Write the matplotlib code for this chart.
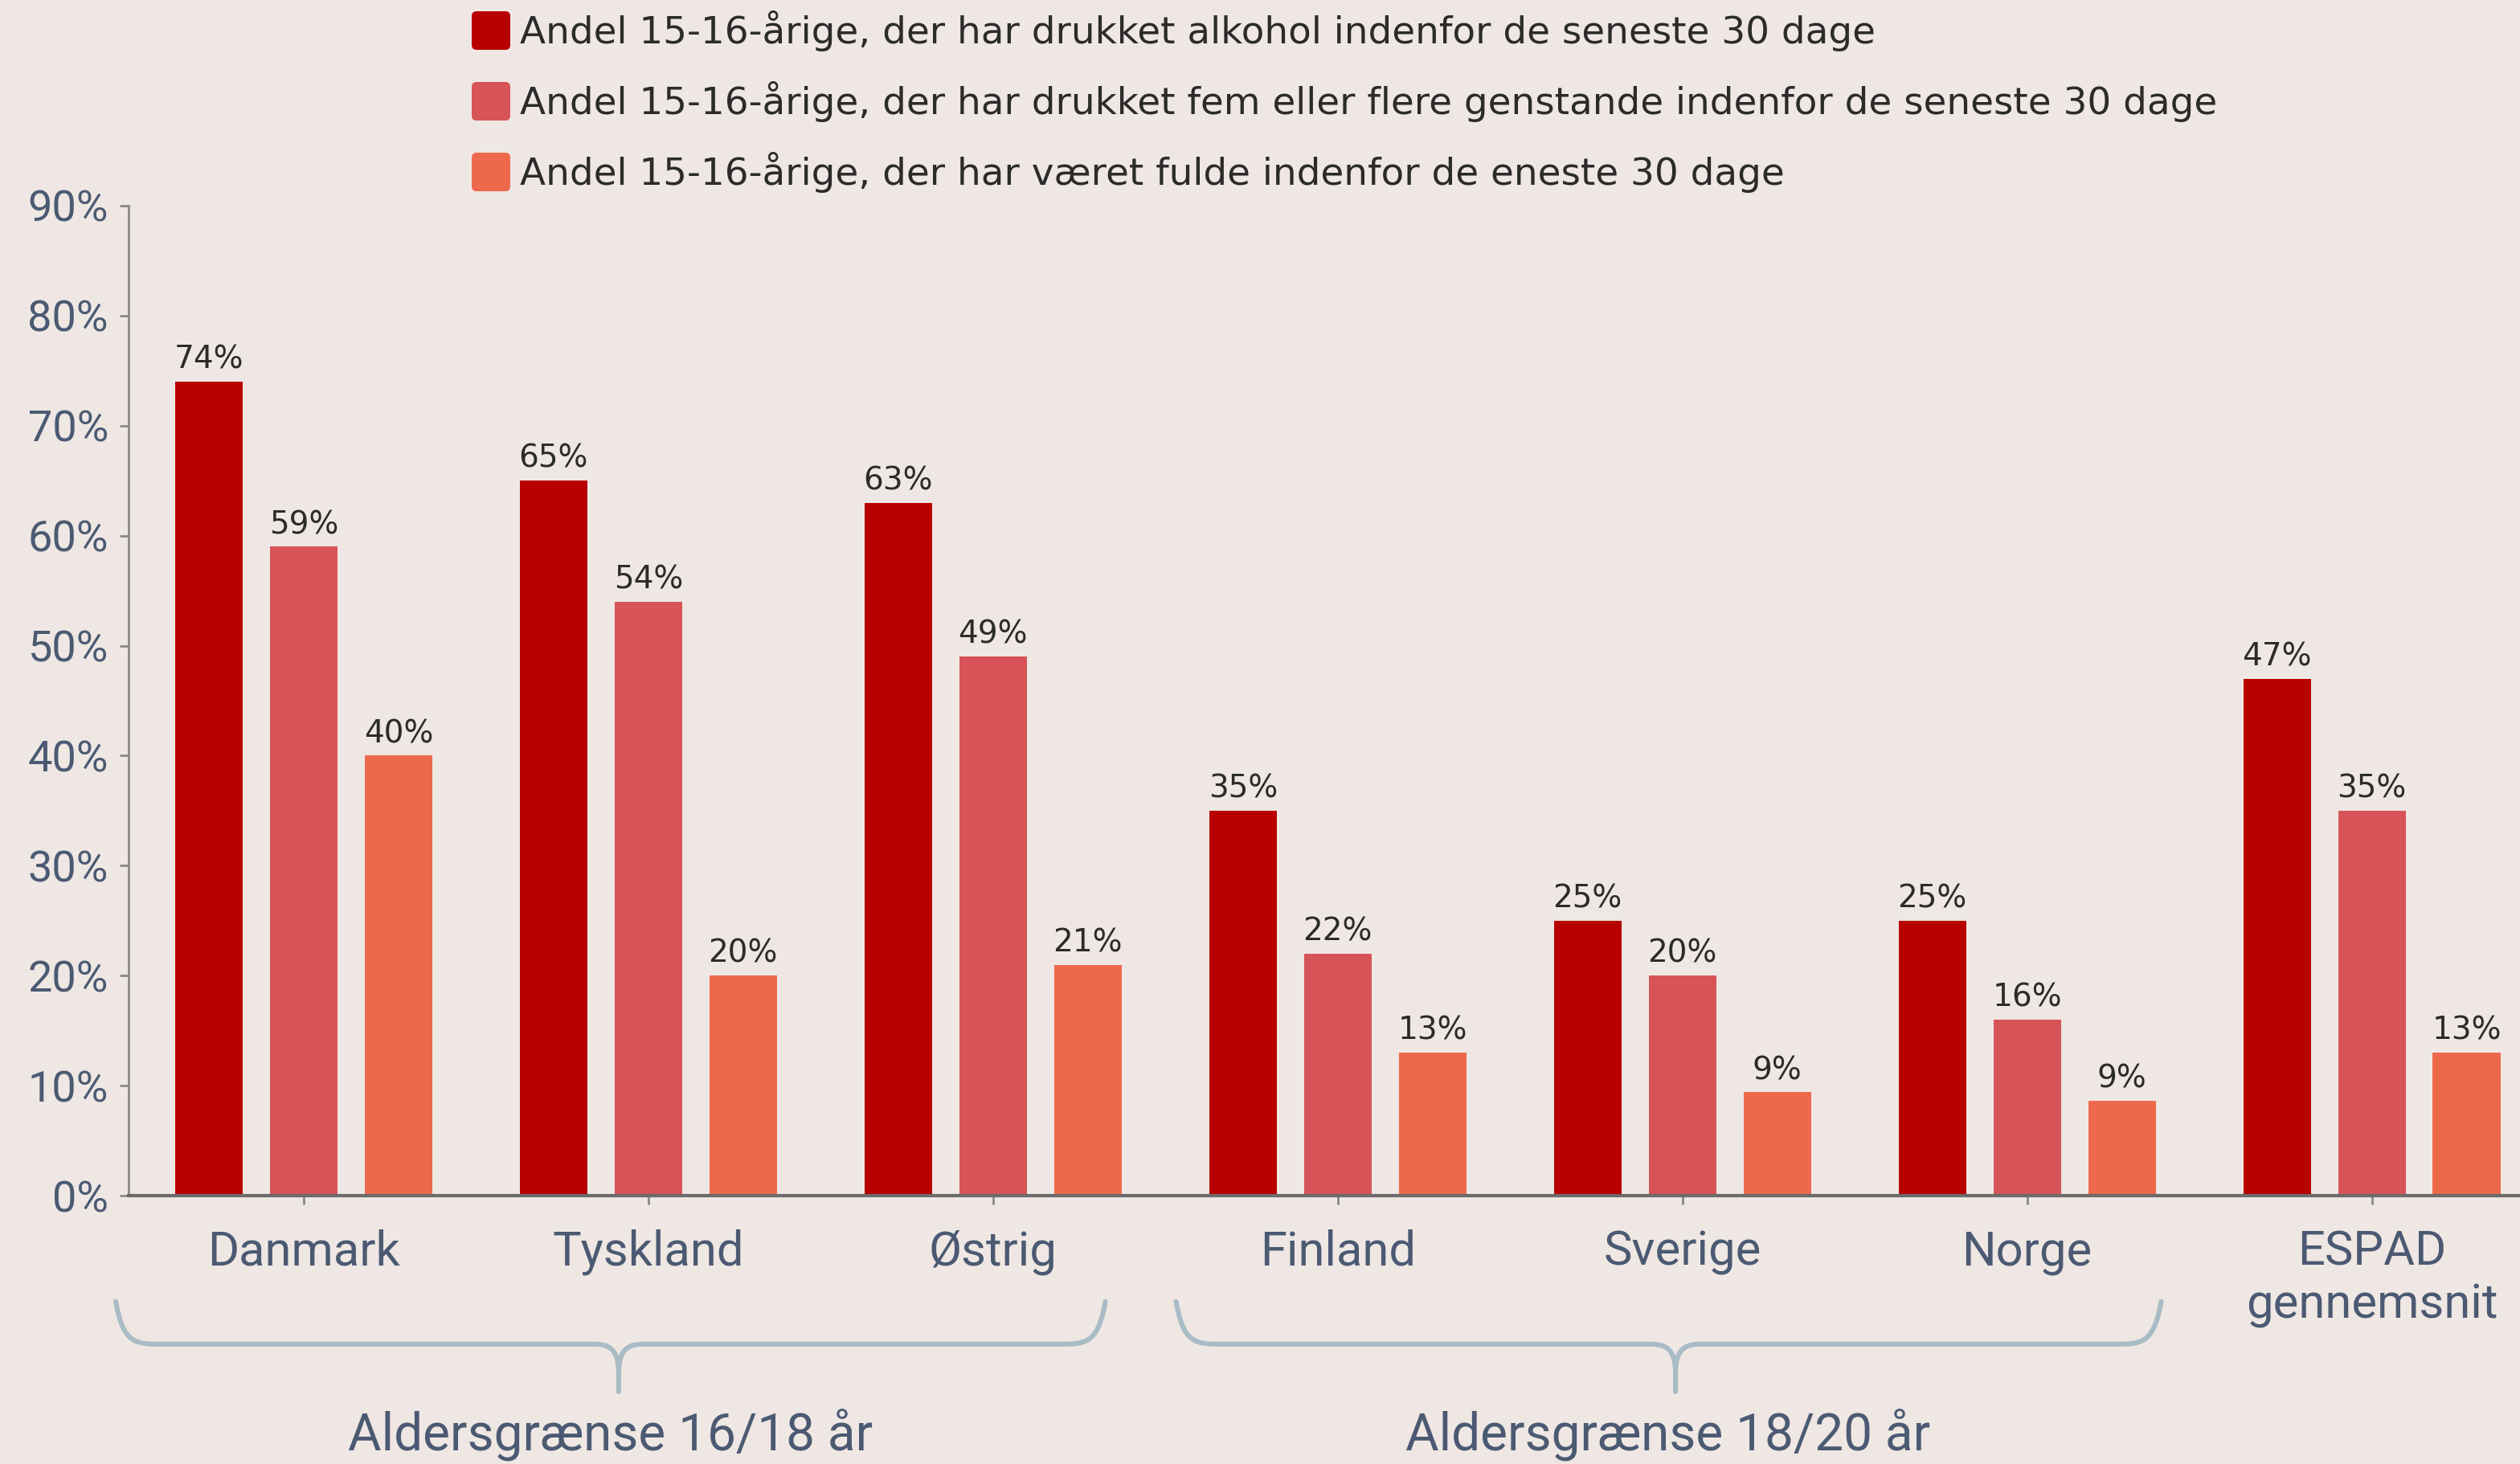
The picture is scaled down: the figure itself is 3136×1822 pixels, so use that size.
import numpy as np
import matplotlib
matplotlib.use("Agg")
import matplotlib.pyplot as plt
from matplotlib.path import Path
from matplotlib.patches import PathPatch, FancyBboxPatch
import matplotlib.transforms as mtransforms

countries = ["Danmark", "Tyskland", "Østrig", "Finland", "Sverige", "Norge", "ESPAD\ngennemsnit"]
drukket = [74, 65, 63, 35, 25, 25, 47]
fem_plus = [59, 54, 49, 22, 20, 16, 35]
fulde = [40, 20, 21, 13, 9.4, 8.6, 13]
series_labels = [
    "Andel 15-16-årige, der har drukket alkohol indenfor de seneste 30 dage",
    "Andel 15-16-årige, der har drukket fem eller flere genstande indenfor de seneste 30 dage",
    "Andel 15-16-årige, der har været fulde indenfor de eneste 30 dage",
]
groups = ["Aldersgrænse 16/18 år", "Aldersgrænse 18/20 år"]

bg = "#efe7e3"
colors = ["#b80000", "#d65457", "#ee694c"]
axis_txt = "#4b5a72"
brace_col = "#a9bcc6"

fig = plt.figure(figsize=(15.68, 9.11), dpi=200, facecolor=bg)
ax = fig.add_axes([0.051, 0.1833, 0.949, 0.6762], facecolor=bg)

x = np.arange(len(countries))
offs = [-0.275, 0.0, 0.275]
width = 0.196
for vals, off, col in zip([drukket, fem_plus, fulde], offs, colors):
    bars = ax.bar(x + off, vals, width, color=col, zorder=2)
    for b, v in zip(bars, vals):
        ax.annotate("%.0f%%" % v, (b.get_x() + b.get_width() / 2, v),
                    xytext=(0, 3), textcoords="offset points", ha="center", va="bottom",
                    fontsize=14, color="#2b2b2b", family="DejaVu Sans")

ax.set_xlim(-0.508, 6.43)
ax.set_ylim(0, 90)
ax.set_yticks(np.arange(0, 91, 10))
ax.set_yticklabels(["%d%%" % t for t in range(0, 91, 10)])
ax.set_xticks(x)
ax.set_xticklabels(countries, linespacing=1.2)
ax.tick_params(axis="y", length=4, width=1, color="#888888", labelsize=19.5,
               labelcolor=axis_txt, pad=5)
ax.tick_params(axis="x", length=4, width=1, color="#888888", labelsize=21.5,
               labelcolor=axis_txt, pad=11)
for lab in ax.get_xticklabels() + ax.get_yticklabels():
    lab.set_family("Roboto")
ax.spines["top"].set_visible(False)
ax.spines["right"].set_visible(False)
ax.spines["left"].set_color("#8a8a8a")
ax.spines["left"].set_linewidth(1)
ax.spines["bottom"].set_color("#6b6b6b")
ax.spines["bottom"].set_linewidth(1.5)

# braces under the country groups
trans = mtransforms.blended_transform_factory(ax.transData, ax.transAxes)


def brace(x0, x1, xc, ytop=-0.107, yh=-0.150, ybot=-0.198):
    verts = [(x0, ytop), (x0 + 0.02, yh + 0.004), (x0 + 0.05, yh), (x0 + 0.12, yh),
             (xc - 0.07, yh),
             (xc - 0.02, yh), (xc, yh - 0.008), (xc, yh - 0.03),
             (xc, ybot),
             (xc, yh - 0.03), (xc, yh - 0.008), (xc + 0.02, yh), (xc + 0.07, yh),
             (x1 - 0.12, yh),
             (x1 - 0.05, yh), (x1 - 0.02, yh + 0.004), (x1, ytop)]
    codes = [Path.MOVETO, Path.CURVE4, Path.CURVE4, Path.CURVE4,
             Path.LINETO,
             Path.CURVE4, Path.CURVE4, Path.CURVE4,
             Path.LINETO,
             Path.MOVETO, Path.CURVE4, Path.CURVE4, Path.CURVE4,
             Path.LINETO,
             Path.CURVE4, Path.CURVE4, Path.CURVE4]
    p = PathPatch(Path(verts, codes), facecolor="none", edgecolor=brace_col,
                  lw=2.2, transform=trans, clip_on=False, capstyle="round")
    ax.add_patch(p)


brace(-0.545, 2.326, 0.914)
brace(2.531, 5.389, 3.98)
ax.text(0.89, -0.242, groups[0], transform=trans, ha="center", va="center",
        fontsize=23, color=axis_txt, family="Roboto")
ax.text(3.958, -0.242, groups[1], transform=trans, ha="center", va="center",
        fontsize=23, color=axis_txt, family="Roboto")

# legend drawn by hand at the top
sq = 0.24
for i, (lab, col) in enumerate(zip(series_labels, colors)):
    yc = (1822 - 38 - 88 * i) / 200.0
    fig.add_artist(FancyBboxPatch((2.935, yc - sq / 2), sq, sq,
                                  boxstyle="round,pad=0,rounding_size=0.03",
                                  facecolor=col, edgecolor="none",
                                  transform=fig.dpi_scale_trans))
    fig.text(3.235, yc, lab, transform=fig.dpi_scale_trans, ha="left", va="center",
             fontsize=16.9, color="#2b2b2b", family="DejaVu Sans")

fig.savefig("out.png", dpi=200, facecolor=bg)
